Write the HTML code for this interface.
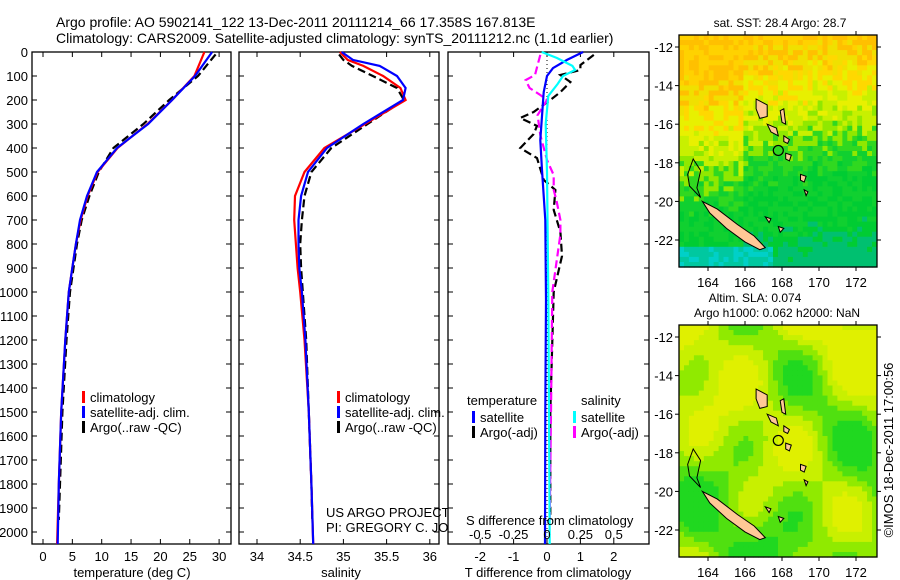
<!DOCTYPE html>
<html><head><meta charset="utf-8"><style>
html,body{margin:0;padding:0;background:#fff;}
svg{display:block;font-family:"Liberation Sans",sans-serif;}
</style></head><body>
<svg id="c" width="900" height="580" viewBox="0 0 900 580">
<text x="56" y="27" font-size="14">Argo profile: AO 5902141_122 13-Dec-2011 20111214_66 17.358S 167.813E</text>
<text x="56" y="43" font-size="14">Climatology: CARS2009. Satellite-adjusted climatology: synTS_20111212.nc (1.1d earlier)</text>
<g id="p1"></g>
<g id="p2"></g>
<g id="p3"></g>
<g id="m1"></g>
<g id="m2"></g>
<text transform="translate(893,450) rotate(-90)" text-anchor="middle" font-size="13">©IMOS 18-Dec-2011 17:00:56</text>
</svg>
<script>
// ---- data ----
const tempDepth=[0,100,200,300,400,500,600,700,800,900,1000,1200,1500,1800,2050];
const tempSat=[28.8,25.9,22.0,17.9,12.6,9.2,7.5,6.3,5.6,5.0,4.4,3.8,3.1,2.7,2.5];
const tempClim=[27.5,25.8,22.0,17.8,12.7,9.3,7.6,6.4,5.6,5.0,4.4,3.8,3.1,2.7,2.4];
const tempArgoDepth=[10,100,200,300,400,500,600,700,800,900,1000,1200,1500,1800,1950];
const tempArgo=[29.4,26.4,21.5,17.1,12.0,9.5,7.9,6.6,5.8,5.2,4.6,4.0,3.3,2.9,2.7];
const salDepth=[0,33,58,100,150,200,300,400,500,600,700,800,900,1000,1200,1500,1800,2050];
const salSat=[34.98,35.11,35.42,35.62,35.72,35.69,35.23,34.81,34.59,34.51,34.48,34.48,34.49,34.52,34.56,34.60,34.63,34.65];
const salClim=[34.96,35.05,35.23,35.46,35.66,35.72,35.25,34.78,34.55,34.44,34.43,34.45,34.47,34.50,34.55,34.60,34.63,34.65];
const salArgoDepth=[10,33,58,100,150,200,300,400,500,600,700,800,900,1000,1200,1500,1800,1950];
const salArgo=[34.95,35.00,35.10,35.34,35.62,35.70,35.28,34.86,34.63,34.55,34.52,34.50,34.51,34.53,34.57,34.60,34.63,34.64];
const dTSatDepth=[0,33,67,100,167,367,492,700,1033,1500,2050];
const dTSat=[1.08,0.6,0.18,0.0,-0.1,-0.2,-0.15,-0.05,-0.03,-0.05,-0.06];
const dSSatDepth=[0,25,58,75,100,133,183,300,500,1000,1500,2050];
const dSSat=[-0.04,0.075,0.19,0.21,0.12,0.08,0.01,-0.01,0.0,0.01,0.015,0.02];
const dTArgoDepth=[12,54,75,96,125,167,200,250,275,308,342,400,442,533,575,658,750,850,1000,1500,1950];
const dTArgo=[1.4,1.0,1.0,0.4,0.7,0.4,0.1,-0.4,-0.8,-0.3,-0.4,-0.8,-0.3,-0.1,0.25,0.2,0.4,0.45,0.2,0.1,0.1];
const dSArgoDepth=[12,54,96,117,150,179,200,263,346,450,513,575,617,700,760,1000,1500,1950];
const dSArgo=[-0.05,-0.07,-0.09,-0.16,-0.13,-0.05,0.0,-0.07,-0.05,0.0,0.05,0.05,0.07,0.1,0.1,0.04,0.03,0.02];
const depthTicks=[0,100,200,300,400,500,600,700,800,900,1000,1100,1200,1300,1400,1500,1600,1700,1800,1900,2000];
const tempTicks=[0,5,10,15,20,25,30];
const salTicks=[34,34.5,35,35.5,36];
const dTTicks=[-2,-1,0,1,2];
const dSTicks=[-0.5,-0.25,0,0.25,0.5];
const lonTicks=[164,166,168,170,172];
const latTicks=[-12,-14,-16,-18,-20,-22];

const NS='http://www.w3.org/2000/svg';
function el(tag,attrs,parent,txt){const e=document.createElementNS(NS,tag);for(const k in attrs)e.setAttribute(k,attrs[k]);if(txt!==undefined)e.textContent=txt;parent.appendChild(e);return e;}
const TOP=52, BOT=544;
const yD=d=>TOP+d*0.24;
function panel(g,x0,x1){
  el('rect',{x:x0,y:TOP,width:x1-x0,height:BOT-TOP,fill:'none',stroke:'#000','stroke-width':1.3},g);
  depthTicks.forEach(d=>{const y=yD(d);
    const t1=el('line',{x1:x0,x2:x0+5,y1:y,y2:y,stroke:'#000'},g);
    
    
    el('line',{x1:x1-5,x2:x1,y1:y,y2:y,stroke:'#000'},g);});
}
function series(g,xs,ds,xf,color,name,dash){
  const pts=xs.map((v,i)=>xf(v).toFixed(1)+','+yD(ds[i]).toFixed(1)).join(' ');
  const p=el('polyline',{points:pts,fill:'none',stroke:color,'stroke-width':2.2,'stroke-dasharray':dash||'none'},g);
  
  
}
function xAxis(g,ticks,xf,y,labels,labelY,top){
  ticks.forEach((t,i)=>{const x=xf(t);
    el('line',{x1:x,x2:x,y1:y,y2:y-5,stroke:'#000'},g);
    if(top) el('line',{x1:x,x2:x,y1:TOP,y2:TOP+5,stroke:'#000'},g);
    const tx=el('text',{x:x,y:labelY,'text-anchor':'middle','font-size':13},g,labels?labels[i]:String(t));
    
    
  });
}
function legend(g,x,y,items){
  items.forEach((it,i)=>{const yy=y+i*15;
    el('rect',{x:x,y:yy-6,width:3,height:12,fill:it[0]},g);
    const t=el('text',{x:x+8,y:yy+5,'font-size':13},g,it[1]);
    
    
  });
}
// Panel 1
const p1=document.getElementById('p1');
panel(p1,32,231);
depthTicks.forEach(d=>{const t=el('text',{x:28,y:yD(d)+5,'text-anchor':'end','font-size':13},p1,String(d));
  });
const xT=v=>43+v*5.87;
xAxis(p1,tempTicks,xT,BOT,null,561,true);
el('text',{x:132,y:577,'text-anchor':'middle','font-size':13},p1,'temperature (deg C)');
series(p1,tempArgo,tempArgoDepth,xT,'#000','temp-argo-line','8,4');
series(p1,tempClim,tempDepth,xT,'#f00','temp-climatology-line');
series(p1,tempSat,tempDepth,xT,'#00f','temp-satellite-line');
legend(p1,82,397,[['#f00','climatology'],['#00f','satellite-adj. clim.'],['#000','Argo(..raw -QC)']]);
// Panel 2
const p2=document.getElementById('p2');
panel(p2,239,439);
const xS=v=>257+(v-34)*86.4;
xAxis(p2,salTicks,xS,BOT,null,561,true);
el('text',{x:341,y:577,'text-anchor':'middle','font-size':13},p2,'salinity');
series(p2,salArgo,salArgoDepth,xS,'#000','sal-argo-line','8,4');
series(p2,salClim,salDepth,xS,'#f00','sal-climatology-line');
series(p2,salSat,salDepth,xS,'#00f','sal-satellite-line');
legend(p2,337,397,[['#f00','climatology'],['#00f','satellite-adj. clim.'],['#000','Argo(..raw -QC)']]);
el('text',{x:326,y:517,'font-size':13},p2,'US ARGO PROJECT');
el('text',{x:326,y:532,'font-size':13},p2,'PI: GREGORY C. JOHNSON');
// Panel 3
const p3=document.getElementById('p3');
el('rect',{x:448,y:TOP,width:201,height:BOT-TOP,fill:'#fff',stroke:'#000','stroke-width':1.3},p3);
depthTicks.forEach(d=>{const y=yD(d);el('line',{x1:448,x2:453,y1:y,y2:y,stroke:'#000'},p3);el('line',{x1:644,x2:649,y1:y,y2:y,stroke:'#000'},p3);});
const xDT=v=>547+v*33.4;
const xDS=v=>547+v*133.6;
el('line',{x1:547,x2:547,y1:TOP,y2:BOT,stroke:'#000','stroke-dasharray':'1,3'},p3);
xAxis(p3,dTTicks,xDT,BOT,null,561,true);
el('text',{x:548,y:577,'text-anchor':'middle','font-size':13},p3,'T difference from climatology');
series(p3,dTArgo,dTArgoDepth,xDT,'#000','tdiff-argo-line','8,4');
series(p3,dSArgo,dSArgoDepth,xDS,'#f0f','sdiff-argo-line','8,4');
series(p3,dTSat,dTSatDepth,xDT,'#00f','tdiff-satellite-line');
series(p3,dSSat,dSSatDepth,xDS,'#0ff','sdiff-satellite-line');
el('text',{x:467,y:405,'font-size':13},p3,'temperature');
el('text',{x:581,y:405,'font-size':13},p3,'salinity');
legend(p3,472,417,[['#00f','satellite'],['#000','Argo(-adj)']]);
legend(p3,573,417,[['#0ff','satellite'],['#f0f','Argo(-adj)']]);
el('text',{x:466,y:525,'font-size':13},p3,'S difference from climatology');
dSTicks.forEach(t=>{const lb=el('text',{x:xDS(t),y:539,'text-anchor':'middle','font-size':13},p3,String(t));
  });
// Maps
function hsh(i,j){let h=(i*374761393+j*668265263)>>>0;h=((h^(h>>>13))*1274126177)>>>0;return (h%1000)/1000;}
function map(g,y0,kind,title){
  const x0=679,x1=877,y1=y0+232;
  const lx=lon=>708+(lon-164)*18.5;
  const ly=lat=>y0+12+(-12-lat)*19.3;
  const nx=40,ny=46,cw=(x1-x0)/nx,ch=(y1-y0)/ny;
  for(let i=0;i<nx;i++)for(let j=0;j<ny;j++){
    const lon=162.5+(i+0.5)*cw/18.5, lat=-11.4-(j+0.5)*ch/19.3;
    let col;const n=hsh(i,j);
    if(kind==='sst'){
      const b=(lon>169.5?-16.8:(lon>166?-17.3:-18.9));
      const v=(lat-b)+ (n-0.5)*2.2;
      col=v>4.5?(n>0.5?'#ffc000':'#ffd200'):v>3.2?(n>0.5?'#ffd800':'#f0e000'):v>2?'#e8f000':v>1?'#c8f000':v>0?'#90e800':v>-1?'#30d820':v>-5?(n>0.5?'#00cc33':'#10d030'):'#00c070';
      if(lat<-22.5&&lon<167.5) col=n>0.4?'#00c8a0':'#00d0c8';
    } else {
      const v=Math.sin(lon*1.1+1)*Math.cos(lat*0.9)+0.6*Math.sin((lon+lat)*0.6)+0.4*(lat+17)/5;
      col=v>0.6?'#e0f000':v>0.1?'#c8f000':v>-0.4?'#90ea00':v>-0.9?'#50e010':'#20d820';
    }
    el('rect',{x:(x0+i*cw).toFixed(1),y:(y0+j*ch).toFixed(1),width:(cw+0.6).toFixed(1),height:(ch+0.6).toFixed(1),fill:col},g);
  }
  const land=(pts,name)=>{const p=el('polygon',{points:pts.map(q=>lx(q[0]).toFixed(1)+','+ly(q[1]).toFixed(1)).join(' '),fill:'#ffc896',stroke:'#000','stroke-width':1},g);
    };
  land([[163.7,-20.0],[164.5,-20.4],[165.6,-21.2],[166.5,-21.8],[167.1,-22.4],[166.8,-22.5],[166.0,-22.1],[165.0,-21.4],[164.1,-20.6]],'new-caledonia');
  land([[166.6,-14.7],[167.2,-15.0],[167.2,-15.6],[166.8,-15.7],[166.6,-15.2]],'espiritu-santo');
  land([[167.2,-16.0],[167.7,-16.2],[167.8,-16.6],[167.4,-16.4]],'malekula');
  land([[168.1,-16.6],[168.4,-16.8],[168.3,-17.0],[168.1,-16.9]],'epi');
  land([[168.2,-17.5],[168.5,-17.6],[168.4,-17.9],[168.2,-17.8]],'efate');
  land([[169.0,-18.6],[169.3,-18.7],[169.2,-19.0],[169.0,-18.9]],'erromango');
  land([[169.2,-19.4],[169.4,-19.5],[169.3,-19.7]],'tanna');
  land([[167.9,-15.3],[168.1,-15.2],[168.2,-16.0],[168.0,-15.9]],'pentecost');
  land([[167.1,-20.8],[167.4,-20.9],[167.3,-21.1]],'lifou');
  land([[167.8,-21.3],[168.1,-21.4],[167.9,-21.6]],'mare');
  el('path',{d:`M${lx(163.6)},${ly(-19.8)} L${lx(163.0)},${ly(-19.2)} L${lx(162.9)},${ly(-18.6)} L${lx(163.2)},${ly(-17.8)} L${lx(163.6)},${ly(-18.4)} L${lx(163.4)},${ly(-19.3)} Z`,fill:'none',stroke:'#000'},g);
  const c=el('circle',{cx:lx(167.8),cy:ly(-17.36),r:5,fill:'none',stroke:'#000','stroke-width':1.2},g);
  
  el('rect',{x:x0,y:y0,width:x1-x0,height:y1-y0,fill:'none',stroke:'#000','stroke-width':1.3},g);
  lonTicks.forEach(l=>{el('line',{x1:lx(l),x2:lx(l),y1:y1,y2:y1+4,stroke:'#000'},g);el('line',{x1:lx(l),x2:lx(l),y1:y0-4,y2:y0,stroke:'#000'},g);
    const t=el('text',{x:lx(l),y:y1+20,'text-anchor':'middle','font-size':13},g,String(l));
    });
  latTicks.forEach(l=>{el('line',{x1:x0-4,x2:x0,y1:ly(l),y2:ly(l),stroke:'#000'},g);el('line',{x1:x1,x2:x1+4,y1:ly(l),y2:ly(l),stroke:'#000'},g);
    const t=el('text',{x:x0-6,y:ly(l)+5,'text-anchor':'end','font-size':13},g,String(l));
    });
  title.forEach((s,i)=>el('text',{x:s[1],y:y0-8-(title.length-1-i)*15,'text-anchor':'middle','font-size':12},g,s[0]));
}
map(document.getElementById('m1'),35,'sst',[['sat. SST: 28.4  Argo: 28.7',780]]);
map(document.getElementById('m2'),325,'sla',[['Altim. SLA: 0.074',755],['Argo h1000: 0.062 h2000: NaN',777]]);
</script>
</body></html>
